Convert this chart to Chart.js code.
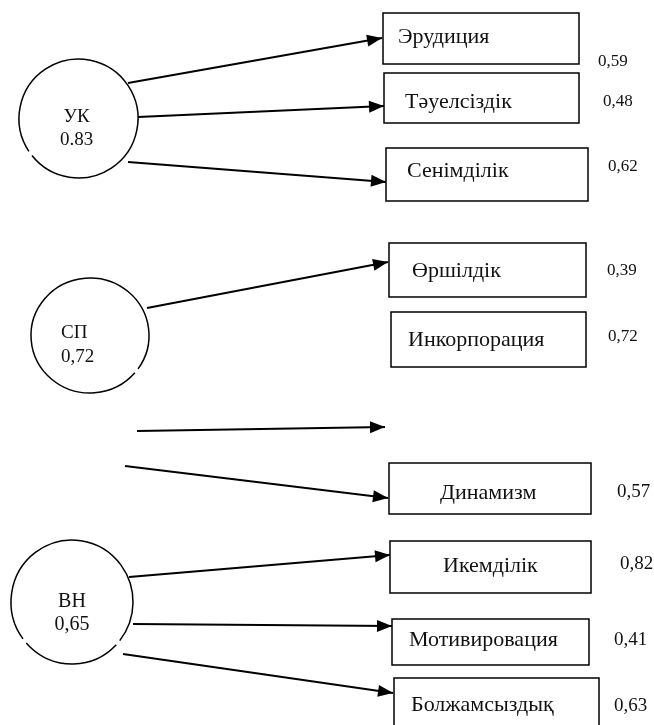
<!DOCTYPE html>
<html><head><meta charset="utf-8">
<script src="https://cdn.jsdelivr.net/npm/chart.js@4.4.1/dist/chart.umd.min.js"></script>
<style>html,body{margin:0;padding:0;background:#fff;overflow:hidden}#wrap{width:654px;height:725px;position:relative}</style>
</head><body><div id="wrap"><canvas id="c"></canvas></div>
<script>
// ---------- DATA ----------
const factorNames = ['УК', 'СП', 'ВН'];
const factorLoadings = ['0.83', '0,72', '0,65'];
const indicatorNames = ['Эрудиция', 'Тәуелсіздік', 'Сенімділік', 'Өршілдік', 'Инкорпорация', 'Динамизм', 'Икемділік', 'Мотивировация', 'Болжамсыздық'];
const indicatorLoadings = ['0,59', '0,48', '0,62', '0,39', '0,72', '0,57', '0,82', '0,41', '0,63'];

// ---------- LAYOUT (diagram units on a 654 x 725 plane) ----------
const factorLayout = [
  {cx: 78.5, cy: 118.5, rx: 59.5, ry: 59.5, tx: 76.5, align: 'center', ty1: 117, ty2: 140, fs: 19, gaps: [144]},
  {cx: 90, cy: 335.5, rx: 59, ry: 57.5, tx: 61, align: 'left', ty1: 333, ty2: 357, fs: 19, gaps: [38]},
  {cx: 72, cy: 602, rx: 61, ry: 62, tx: 72, align: 'center', ty1: 602, ty2: 625, fs: 20, gaps: [141, 41]}
];
const boxLayout = [
  {x1: 383, y1: 13, x2: 579, y2: 64, tx: 398, ty: 37, nx: 598, ny: 62, nfs: 17},
  {x1: 384, y1: 73, x2: 579, y2: 123, tx: 405, ty: 102, nx: 603, ny: 102, nfs: 17},
  {x1: 386, y1: 148, x2: 588, y2: 201, tx: 407, ty: 171, nx: 608, ny: 167, nfs: 17},
  {x1: 389, y1: 243, x2: 586, y2: 297, tx: 412, ty: 271, nx: 607, ny: 271, nfs: 17},
  {x1: 391, y1: 312, x2: 586, y2: 367, tx: 408, ty: 340, nx: 608, ny: 337, nfs: 17},
  {x1: 389, y1: 463, x2: 591, y2: 514, tx: 440, ty: 493, nx: 617, ny: 492, nfs: 19},
  {x1: 390, y1: 541, x2: 591, y2: 593, tx: 443, ty: 566, nx: 620, ny: 564, nfs: 19},
  {x1: 392, y1: 619, x2: 589, y2: 665, tx: 409, ty: 640, nx: 614, ny: 640, nfs: 19},
  {x1: 394, y1: 678, x2: 599, y2: 740, tx: 411, ty: 705, nx: 614, ny: 706, nfs: 19}
];
const arrowLayout = [
  [[128, 83], [382, 38]],
  [[138, 117], [384, 106]],
  [[128, 162], [386, 182]],
  [[147, 308], [388, 262]],
  [[137, 431], [385, 427]],
  [[125, 466], [388, 498]],
  [[129, 577], [390, 555]],
  [[133, 624], [392, 626]],
  [[123, 654], [393, 693]]
];

const FONT = '"Liberation Serif", "Times New Roman", serif';

const datasets = arrowLayout.map(a => ({
  type: 'line',
  data: [{x: a[0][0], y: a[0][1]}, {x: a[1][0], y: a[1][1]}],
  borderColor: '#000',
  borderWidth: 2,
  pointRadius: 0,
  fill: false,
  tension: 0
}));

const diagramPlugin = {
  id: 'diagram',
  afterDatasetsDraw(chart) {
    const ctx = chart.ctx;
    const X = v => chart.scales.x.getPixelForValue(v);
    const Y = v => chart.scales.y.getPixelForValue(v);
    ctx.save();
    // arrowheads
    arrowLayout.forEach(a => {
      const x0 = X(a[0][0]), y0 = Y(a[0][1]), x1 = X(a[1][0]), y1 = Y(a[1][1]);
      const ang = Math.atan2(y1 - y0, x1 - x0);
      const L = 15, W = 6;
      ctx.beginPath();
      ctx.moveTo(x1, y1);
      ctx.lineTo(x1 - L * Math.cos(ang) + W * Math.sin(ang), y1 - L * Math.sin(ang) - W * Math.cos(ang));
      ctx.lineTo(x1 - L * Math.cos(ang) - W * Math.sin(ang), y1 - L * Math.sin(ang) + W * Math.cos(ang));
      ctx.closePath();
      ctx.fillStyle = '#000';
      ctx.fill();
    });
    // boxes
    ctx.lineWidth = 1.5;
    ctx.strokeStyle = '#000';
    boxLayout.forEach((b, i) => {
      const x1 = X(b.x1), y1 = Y(b.y1), x2 = X(b.x2), y2 = Y(b.y2);
      ctx.fillStyle = '#fff';
      ctx.fillRect(x1, y1, x2 - x1, y2 - y1);
      ctx.strokeRect(x1, y1, x2 - x1, y2 - y1);
      ctx.fillStyle = '#111';
      ctx.textBaseline = 'middle';
      ctx.textAlign = 'left';
      ctx.font = '22px ' + FONT;
      ctx.fillText(indicatorNames[i], X(b.tx), Y(b.ty));
      ctx.font = b.nfs + 'px ' + FONT;
      ctx.fillText(indicatorLoadings[i], X(b.nx), Y(b.ny));
    });
    // factor circles
    factorLayout.forEach((f, i) => {
      const cx = X(f.cx), cy = Y(f.cy);
      const rx = Math.abs(X(f.cx + f.rx) - cx), ry = Math.abs(Y(f.cy + f.ry) - cy);
      const g = 2.5 * Math.PI / 180;
      const gaps = f.gaps.map(d => d * Math.PI / 180).sort((p, q) => p - q);
      ctx.lineWidth = 1.5;
      for (let k = 0; k < gaps.length; k++) {
        const start = gaps[k] + g;
        const end = (k + 1 < gaps.length ? gaps[k + 1] : gaps[0] + 2 * Math.PI) - g;
        ctx.beginPath();
        ctx.ellipse(cx, cy, rx, ry, 0, start, end);
        ctx.stroke();
      }
      ctx.fillStyle = '#111';
      ctx.textBaseline = 'middle';
      ctx.textAlign = f.align;
      ctx.font = f.fs + 'px ' + FONT;
      ctx.fillText(factorNames[i], X(f.tx), Y(f.ty1));
      ctx.fillText(factorLoadings[i], X(f.tx), Y(f.ty2));
    });
    ctx.restore();
  }
};

new Chart(document.getElementById('c'), {
  type: 'scatter',
  data: {datasets},
  options: {
    responsive: true,
    maintainAspectRatio: false,
    animation: false,
    layout: {padding: 0},
    plugins: {legend: {display: false}, tooltip: {enabled: false}},
    events: [],
    scales: {
      x: {type: 'linear', min: 0, max: 654, display: false},
      y: {type: 'linear', min: 0, max: 725, reverse: true, display: false}
    }
  },
  plugins: [diagramPlugin]
});
</script>
</body></html>
